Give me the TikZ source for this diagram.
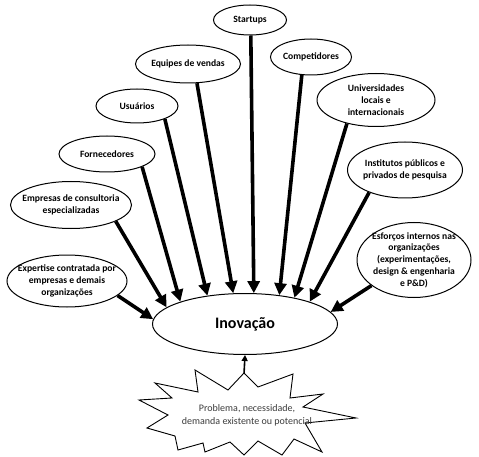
\documentclass[tikz,border=0pt]{standalone}
\usepackage{fontspec}
\setmainfont{Carlito}
\usetikzlibrary{arrows.meta,shapes.geometric}
\definecolor{startext}{RGB}{60,60,60}
\begin{document}
\begin{tikzpicture}[x=1pt,y=-1pt,
  oval/.style={ellipse,draw=black,line width=1pt,inner sep=0pt,fill=white},
  lbl/.style={align=center,font=\fontsize{9.6}{11.8}\selectfont\bfseries,inner sep=0pt},
  bigarrow/.style={line width=3.6pt,-{Triangle[length=12pt,width=12pt]}},
  smallarrow/.style={line width=1.6pt,-{Triangle[length=6pt,width=6pt]}}
]
\useasboundingbox (0,0) rectangle (479,457);
% outer ellipses
\node[oval,minimum width=73pt,minimum height=30pt] (startups) at (250,20) {};
\node[lbl] at (startups) {Startups};
\node[oval,minimum width=105pt,minimum height=38pt] (equipes) at (188,64) {};
\node[lbl] at (equipes) {Equipes de vendas};
\node[oval,minimum width=82pt,minimum height=34pt] (usuarios) at (137,106) {};
\node[lbl] at (usuarios) {Usuários};
\node[oval,minimum width=96pt,minimum height=36pt] (fornec) at (107,154) {};
\node[lbl] at (fornec) {Fornecedores};
\node[oval,minimum width=121pt,minimum height=47pt] (empresas) at (71,205) {};
\node[lbl] at (empresas) {Empresas de consultoria\\especializadas};
\node[oval,minimum width=120pt,minimum height=52pt] (expertise) at (67,281) {};
\node[lbl] at (expertise) {Expertise contratada por\\empresas e demais\\organizações};
\node[oval,minimum width=81pt,minimum height=36pt] (compet) at (311,57) {};
\node[lbl] at (compet) {Competidores};
\node[oval,minimum width=118pt,minimum height=53pt] (univ) at (376,100) {};
\node[lbl] at (univ) {Universidades\\locais e\\internacionais};
\node[oval,minimum width=115pt,minimum height=56pt] (instit) at (405,170) {};
\node[lbl] at (instit) {Institutos públicos e\\privados de pesquisa};
\node[oval,minimum width=114pt,minimum height=75pt] (esforcos) at (414,260) {};
\node[lbl] at (esforcos) {Esforços internos nas\\organizações\\(experimentações,\\design \& engenharia\\e P\&D)};
% central
\node[oval,minimum width=185pt,minimum height=61pt] (inov) at (245,324) {};
\node[lbl,font=\fontsize{16}{18}\selectfont\bfseries] at (inov) {Inovação};
% starburst
\draw[line width=0.9pt,fill=white]
  (244,373) -- (258,387) -- (293,374) -- (290,398) -- (323,394) -- (303,407)
  -- (356,418) -- (305,423) -- (322,452) -- (294,439) -- (282,455) -- (258,441)
  -- (244,455) -- (230,442) -- (205,452) -- (203,443) -- (178,450) -- (175,436)
  -- (147,428) -- (168,415) -- (139,400) -- (172,398) -- (155,383) -- (198,392)
  -- (195,370) -- (228,390) -- cycle;
\coordinate (startop) at (244,374);
\node[align=center,text=startext,font=\fontsize{10}{13}\selectfont,inner sep=0pt] (prob) at (247,415) {Problema, necessidade,\\demanda existente ou potencial};
% arrows
\draw[smallarrow] (startop) -- (inov.south);
\draw[bigarrow] (expertise.-16) -- (inov.177);
\draw[bigarrow] (empresas.-20) -- (inov.168);
\draw[bigarrow] (fornec.-20) -- (inov.161);
\draw[bigarrow] (usuarios.-25) -- (inov.143);
\draw[bigarrow] (equipes.-65) -- (inov.111);
\draw[bigarrow] (startups.-87) -- (inov.74);
\draw[bigarrow] (compet.-117) -- (inov.40);
\draw[bigarrow] (univ.-141) -- (inov.28);
\draw[bigarrow] (instit.-148) -- (inov.19);
\draw[bigarrow] (esforcos.-149) -- (inov.8);
\end{tikzpicture}
\end{document}
